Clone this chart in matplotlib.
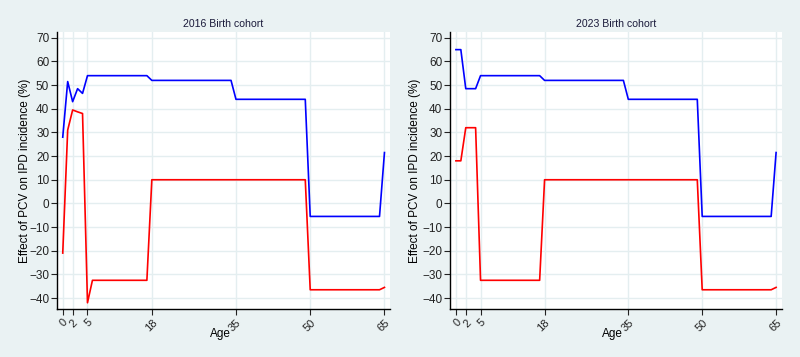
import matplotlib.pyplot as plt

plt.rcParams['font.family'] = ['Liberation Sans', 'DejaVu Sans']

ages = [0, 1, 2, 3, 4, 5, 6, 17, 18, 34, 35, 49, 50, 64, 65]

blue_2016 = [28, 51.5, 43, 48.5, 46.5, 54, 54, 54, 52, 52, 44, 44, -5.5, -5.5, 21.5]
red_2016 = [-21, 31, 39.5, 38.7, 38, -42, -32.5, -32.5, 10, 10, 10, 10, -36.5, -36.5, -35.5]
blue_2023 = [65, 65, 48.5, 48.5, 48.5, 54, 54, 54, 52, 52, 44, 44, -5.5, -5.5, 21.5]
red_2023 = [18, 18, 32, 32, 32, -32.5, -32.5, -32.5, 10, 10, 10, 10, -36.5, -36.5, -35.5]

titles = ["2016 Birth cohort", "2023 Birth cohort"]
xticks = [0, 2, 5, 18, 35, 50, 65]
yticks = [-40, -30, -20, -10, 0, 10, 20, 30, 40, 50, 60, 70]

bg = '#eaf2f3'
grid = '#e4eef0'

fig = plt.figure(figsize=(8, 3.57), dpi=100, facecolor=bg)
rects = [[0.071, 0.134, 0.417, 0.776], [0.5625, 0.134, 0.415, 0.776]]
ylab_x = [-0.096, -0.105]
series = [(blue_2016, red_2016), (blue_2023, red_2023)]

for rect, title, (b, r), yx in zip(rects, titles, series, ylab_x):
    ax = fig.add_axes(rect)
    ax.set_facecolor('white')
    ax.plot(ages, b, color='#0000ff', lw=1.2)
    ax.plot(ages, r, color='#ff0000', lw=1.2)
    ax.set_xlim(-1.2, 66.2)
    ax.set_ylim(-44.7, 72.4)
    ax.set_xticks(xticks)
    ax.set_xticklabels([str(t) for t in xticks], rotation=45, fontsize=8,
                       ha='right', rotation_mode='anchor')
    ax.set_yticks(yticks)
    ax.set_yticklabels([str(t).replace('-', '\u2212') for t in yticks], fontsize=8.5)
    ax.grid(True, color=grid, lw=1)
    ax.set_axisbelow(True)
    for s in ['top', 'right']:
        ax.spines[s].set_visible(False)
    for s in ['left', 'bottom']:
        ax.spines[s].set_color('black')
        ax.spines[s].set_linewidth(1)
    ax.tick_params(length=4, width=0.8, pad=1.5, colors='#222222')
    ax.tick_params(axis='x', pad=2)
    ax.set_xlabel("Age", fontsize=8.5, va='center')
    ax.xaxis.set_label_coords(0.49, -0.088)
    ax.set_ylabel("Effect of PCV on IPD incidence (%)", fontsize=8.5, va='center')
    ax.yaxis.set_label_coords(yx, 0.5)
    ax.set_title(title, fontsize=7.6, color='#1a1a3a', pad=4)

fig.savefig('out.png', dpi=100, facecolor=bg)
